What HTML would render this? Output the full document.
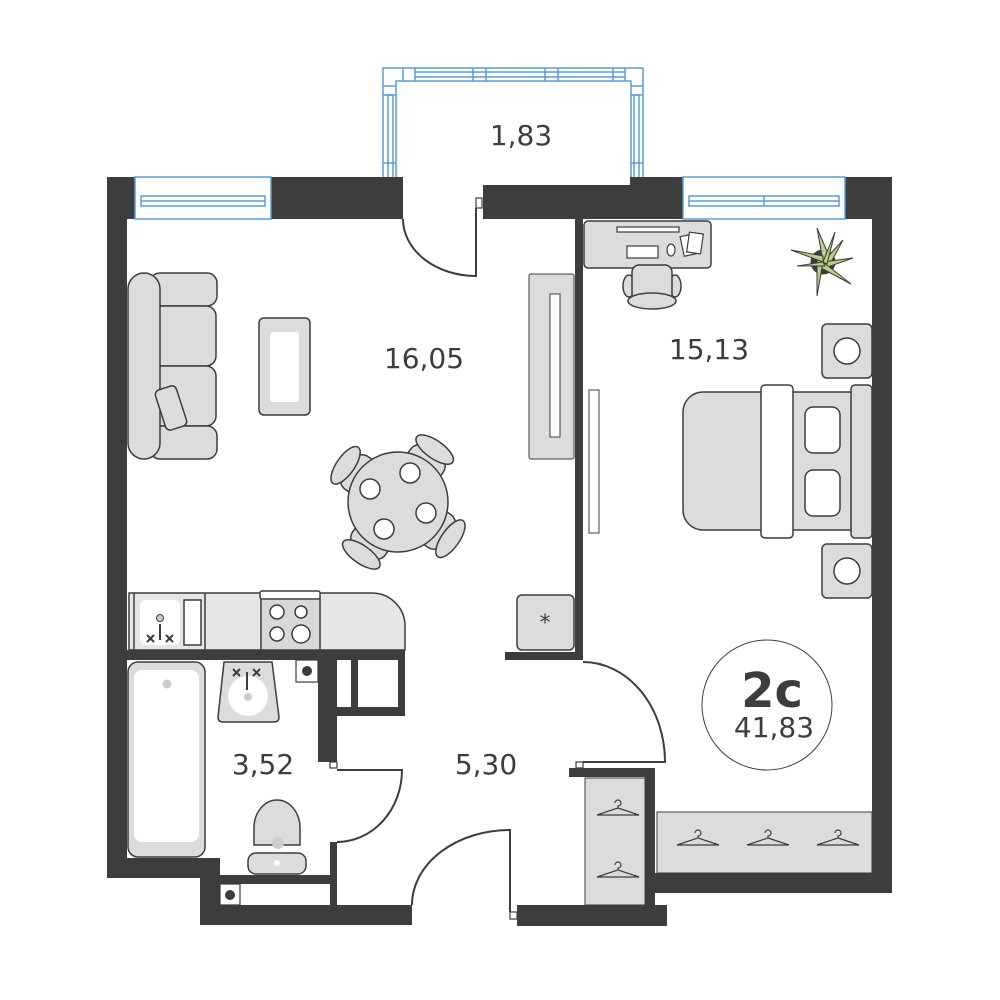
<!DOCTYPE html>
<html><head><meta charset="utf-8"><style>
html,body{margin:0;padding:0;background:#fff;width:1000px;height:1000px;overflow:hidden}
svg{display:block}
text{font-family:"DejaVu Sans","Liberation Sans",sans-serif;fill:#3d3d3d}
</style></head><body>
<svg width="1000" height="1000" viewBox="0 0 1000 1000" xmlns="http://www.w3.org/2000/svg">
<g fill="#3d3d3d">
<!-- top walls -->
<rect x="107" y="177" width="296" height="42"/>
<rect x="483" y="185" width="148" height="34"/>
<rect x="630" y="177" width="262" height="42"/>
<!-- outer side walls -->
<rect x="107" y="177" width="20" height="701"/>
<rect x="872" y="177" width="20" height="716"/>
<!-- bath bottom -->
<rect x="107" y="858" width="113" height="20"/>
<rect x="200" y="858" width="20" height="67"/>
<rect x="200" y="905" width="212" height="20"/>
<rect x="517" y="905" width="150" height="21"/>
<!-- bedroom bottom -->
<rect x="655" y="873" width="237" height="20"/>
<rect x="645" y="768" width="10" height="140"/>
<rect x="569" y="768" width="86" height="9"/>
<!-- partition -->
<rect x="575" y="219" width="8" height="441"/>
<rect x="505" y="652" width="78" height="8"/>
<!-- kitchen/bath wall -->
<rect x="127" y="650" width="278" height="10"/>
<rect x="318" y="660" width="19" height="102"/>
<rect x="330" y="842" width="7" height="63"/>
<rect x="220" y="875" width="110" height="9"/>
<rect x="337" y="707" width="68" height="9"/>
<rect x="398" y="660" width="7" height="50"/>
<rect x="351" y="660" width="7" height="50"/>
</g>
<!-- windows -->
<g fill="#fff" stroke="#5b9bd5" stroke-width="1.5">
<rect x="135" y="177" width="136" height="42"/>
<rect x="141" y="196" width="124" height="10"/>
<line x1="141" y1="201" x2="265" y2="201"/>
<rect x="683" y="177" width="162" height="42"/>
<rect x="689" y="196" width="150" height="10"/>
<line x1="689" y1="201" x2="839" y2="201"/>
<line x1="764" y1="196" x2="764" y2="206"/>
</g>
<!-- balcony -->
<g fill="none" stroke="#5b9bd5" stroke-width="1.5">
<path d="M383 177 V68 H643 V177"/>
<path d="M396 177 V81 H631 V177"/>
<path d="M388 177 V95 H393 V177"/>
<path d="M634 177 V95 H639 V177"/>
<path d="M415 72 H625 M415 77 H625"/>
<line x1="383" y1="95" x2="396" y2="95"/>
<line x1="631" y1="95" x2="643" y2="95"/>
<line x1="403" y1="68" x2="403" y2="81"/><line x1="415" y1="68" x2="415" y2="81"/>
<line x1="473" y1="68" x2="473" y2="81"/><line x1="486" y1="68" x2="486" y2="81"/>
<line x1="545" y1="68" x2="545" y2="81"/><line x1="558" y1="68" x2="558" y2="81"/>
<line x1="613" y1="68" x2="613" y2="81"/><line x1="625" y1="68" x2="625" y2="81"/>
<line x1="383" y1="86" x2="396" y2="86"/><line x1="631" y1="86" x2="643" y2="86"/>
<line x1="383" y1="163" x2="396" y2="163"/><line x1="631" y1="163" x2="643" y2="163"/>
</g>
<!-- doors -->
<g fill="none" stroke="#3d3d3d" stroke-width="2">
<path d="M403 219 A73 57 0 0 0 476 276 V208"/>
<path d="M583 662 A82 100 0 0 1 665 762 H583"/>
<path d="M337 842 A65 72 0 0 0 402 770 H337"/>
<path d="M412 905 A98 75 0 0 1 510 830 V912"/>
</g>
<g fill="#fff" stroke="#3d3d3d" stroke-width="1.2">
<rect x="476" y="198" width="6" height="10"/>
<rect x="330" y="762" width="7" height="6"/>
<rect x="576" y="762" width="7" height="6"/>
<rect x="510" y="912" width="7" height="7"/>
<rect x="296" y="660" width="22" height="22"/>
<rect x="220" y="884" width="20" height="21"/>
</g>
<circle cx="307" cy="671" r="5" fill="#3d3d3d"/>
<circle cx="230" cy="895" r="5" fill="#3d3d3d"/>
<!-- furniture -->
<g fill="#dcdcdc" stroke="#3d3d3d" stroke-width="1.5">
<!-- sofa -->
<rect x="150" y="273" width="67" height="33" rx="10"/>
<rect x="150" y="306" width="66" height="60" rx="10"/>
<rect x="150" y="366" width="66" height="60" rx="10"/>
<rect x="150" y="426" width="67" height="33" rx="10"/>
<rect x="128" y="273" width="32" height="186" rx="16"/>
<rect x="160" y="387" width="22" height="42" rx="5" transform="rotate(-18 171 408)"/>
<!-- table -->
<rect x="259" y="318" width="51" height="97" rx="5"/>
<rect x="270" y="332" width="29" height="70" rx="3" fill="#fff" stroke="none"/>
<!-- tv unit -->
<rect x="529" y="274" width="45" height="185" rx="2" stroke-width="1"/>
<rect x="550" y="294" width="10" height="143" fill="#fff" stroke-width="1"/>
<rect x="589" y="390" width="10" height="143" fill="#fff" stroke-width="1"/>
<!-- dining chairs -->
<g transform="translate(398,502)">
<g transform="rotate(-55)"><rect x="-20" y="-62" width="40" height="30" rx="12"/><ellipse cx="0" cy="-64" rx="22" ry="9"/></g>
<g transform="rotate(35)"><rect x="-20" y="-62" width="40" height="30" rx="12"/><ellipse cx="0" cy="-64" rx="22" ry="9"/></g>
<g transform="rotate(125)"><rect x="-20" y="-62" width="40" height="30" rx="12"/><ellipse cx="0" cy="-64" rx="22" ry="9"/></g>
<g transform="rotate(215)"><rect x="-20" y="-62" width="40" height="30" rx="12"/><ellipse cx="0" cy="-64" rx="22" ry="9"/></g>
<circle r="50"/>
<g fill="#fff"><circle cx="12" cy="-29" r="10"/><circle cx="-28" cy="-13" r="10"/><circle cx="28" cy="11" r="10"/><circle cx="-14" cy="27" r="10"/></g>
</g>
<!-- kitchen -->
<path d="M129 593 H372 A33 33 0 0 1 405 626 V650 H129 Z" fill="#e6e6e6"/>
<line x1="134" y1="593" x2="134" y2="650"/>
<line x1="205" y1="593" x2="205" y2="650"/>
<rect x="140" y="600" width="40" height="45" rx="6" fill="#fff" stroke="none"/>
<rect x="184" y="600" width="17" height="45" fill="#fff"/>
<rect x="261" y="597" width="59" height="53" fill="#d8d8d8"/>
<rect x="260" y="591" width="60" height="8" rx="2" fill="#fff"/>
<g fill="#fff"><circle cx="277" cy="612" r="7"/><circle cx="301" cy="612" r="6"/><circle cx="277" cy="634" r="7"/><circle cx="301" cy="634" r="9"/></g>
<!-- bath -->
<rect x="128" y="662" width="77" height="195" rx="10"/>
<rect x="134" y="670" width="65" height="172" rx="8" fill="#fff" stroke="none"/>
<path d="M224 662 H272 L279 717 Q279 722 274 722 H223 Q218 722 218 717 Z"/>
<circle cx="248" cy="696" r="20" fill="#fff" stroke="none"/>
<!-- toilet -->
<path d="M254 845 V828 A23 28 0 0 1 300 828 V845 Z"/>
<rect x="248" y="853" width="58" height="21" rx="8"/>
<!-- fridge -->
<rect x="517" y="595" width="57" height="55" rx="5"/>
<!-- closets -->
<rect x="585" y="778" width="60" height="127" stroke-width="1"/>
<rect x="657" y="812" width="215" height="61" stroke-width="1"/>
<!-- desk -->
<rect x="584" y="221" width="127" height="47" rx="4"/>
<ellipse cx="629" cy="286" rx="6" ry="11"/><ellipse cx="675" cy="286" rx="6" ry="11"/>
<rect x="632" y="265" width="40" height="36" rx="7"/>
<ellipse cx="652" cy="301" rx="24" ry="8"/>
<!-- bed -->
<rect x="822" y="324" width="50" height="54" rx="5"/>
<rect x="822" y="544" width="50" height="54" rx="5"/>
<path d="M703 392 H852 V530 H703 A20 20 0 0 1 683 510 V412 A20 20 0 0 1 703 392 Z"/>
<rect x="851" y="385" width="21" height="153" rx="4"/>
<rect x="761" y="385" width="32" height="153" rx="4" fill="#fff"/>
<rect x="805" y="407" width="35" height="46" rx="8" fill="#fff"/>
<rect x="805" y="470" width="35" height="46" rx="8" fill="#fff"/>
<circle cx="847" cy="351" r="13" fill="#fff"/>
<circle cx="847" cy="571" r="13" fill="#fff"/>
</g>
<g fill="#fff" stroke="#3d3d3d" stroke-width="1.2">
<rect x="617" y="227" width="62" height="5"/>
<rect x="627" y="246" width="31" height="12"/>
<ellipse cx="671" cy="250" rx="4" ry="6"/>
<rect x="682" y="235" width="14" height="20" transform="rotate(-12 689 245)"/>
<rect x="688" y="233" width="14" height="20" transform="rotate(8 695 243)"/>
</g>
<!-- plant -->
<g transform="translate(823,262)" fill="#b8cf86" stroke="#3d3d3d" stroke-width="1">
<circle r="12" fill="#3d3d3d"/>
<path d="M0 0 L-6 -34 L6 -6Z"/><path d="M0 0 L20 -22 L6 4Z"/><path d="M0 0 L30 -4 L2 6Z"/>
<path d="M0 0 L28 22 L-2 6Z"/><path d="M0 0 L-6 34 L-6 -2Z"/><path d="M0 0 L-32 -12 L0 -6Z"/>
<path d="M0 0 L-26 4 L2 4Z"/><path d="M0 0 L12 -30 L4 2Z"/>
</g>
<!-- icons -->
<g stroke="#3d3d3d" stroke-width="2" fill="none">
<line x1="160" y1="624" x2="160" y2="640"/><line x1="247" y1="672" x2="247" y2="690"/>
<path d="M147 635 l7 7 m0 -7 l-7 7 M166 635 l7 7 m0 -7 l-7 7"/>
<path d="M233 669 l7 7 m0 -7 l-7 7 M253 669 l7 7 m0 -7 l-7 7"/>
</g>
<circle cx="160" cy="618" r="3.5" fill="#ccc" stroke="#3d3d3d" stroke-width="1"/>
<circle cx="167" cy="684" r="4.5" fill="#ccc"/><circle cx="248" cy="697" r="4" fill="#ccc"/>
<circle cx="278" cy="843" r="6" fill="#ccc"/><circle cx="277" cy="863" r="3" fill="#fff"/>
<text x="545" y="630" font-size="22" text-anchor="middle">*</text>
<g fill="none" stroke="#3d3d3d" stroke-width="1.2">
<path id="h" d="M615 803 a3 3 0 1 1 3 3 v2 l-21 7 h42 l-21 -7"/>
<use href="#h" y="62"/>
<use href="#h" x="80" y="30"/><use href="#h" x="150" y="30"/><use href="#h" x="220" y="30"/>
</g>
<!-- labels -->
<text x="521" y="145" font-size="28" text-anchor="middle">1,83</text>
<text x="424" y="368" font-size="28" text-anchor="middle">16,05</text>
<text x="709" y="359" font-size="28" text-anchor="middle">15,13</text>
<text x="263" y="774" font-size="28" text-anchor="middle">3,52</text>
<text x="486" y="774" font-size="28" text-anchor="middle">5,30</text>
<circle cx="767" cy="705" r="65" fill="none" stroke="#3d3d3d" stroke-width="1"/>
<text x="772" y="707" font-size="48" font-weight="bold" text-anchor="middle">2с</text>
<text x="774" y="737" font-size="28" text-anchor="middle">41,83</text>
</svg>
</body></html>
